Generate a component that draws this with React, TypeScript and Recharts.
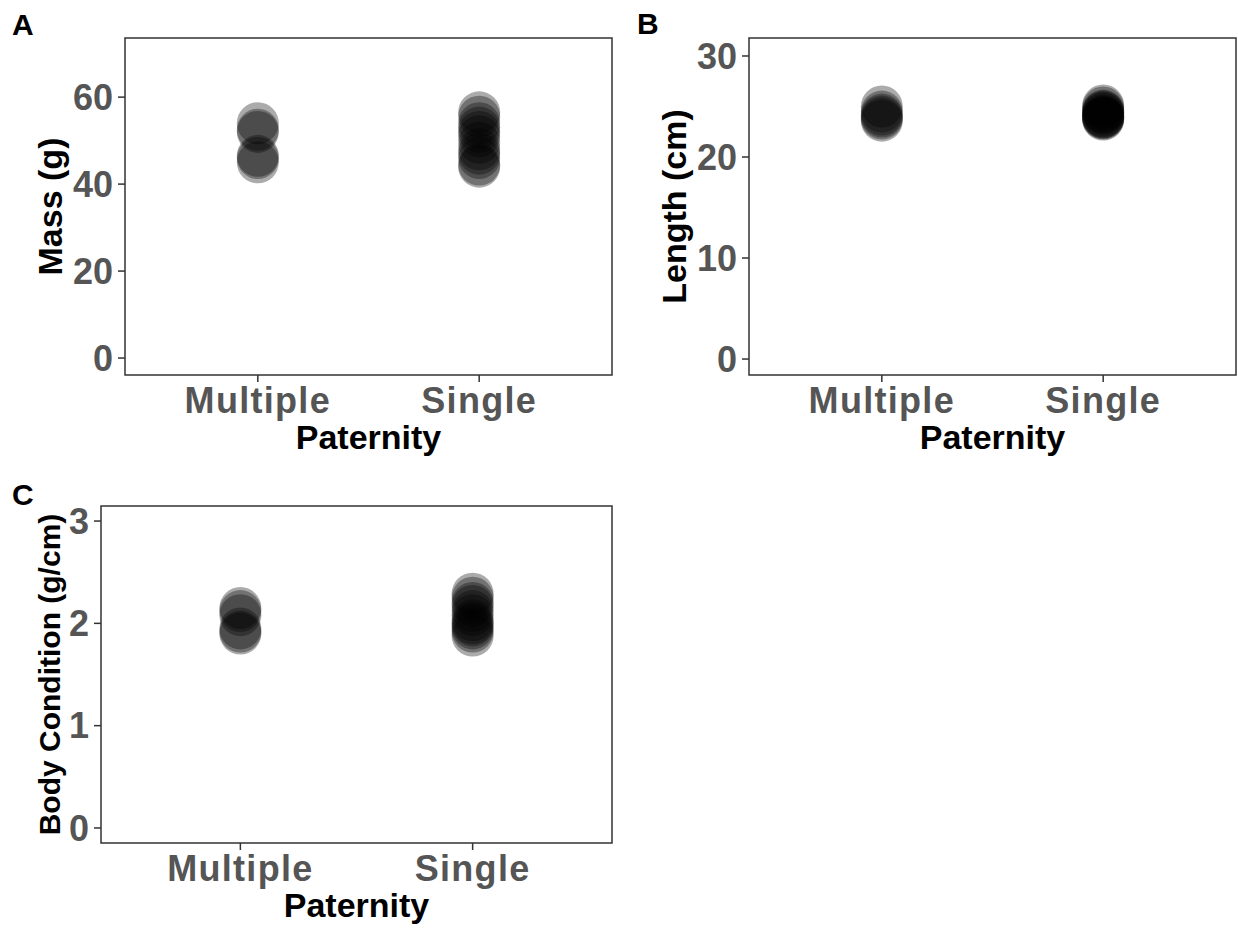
import React from 'react';
import { ScatterChart, Scatter, XAxis, YAxis, ReferenceArea, Label } from 'recharts';

const categories = ['Multiple', 'Single'];

const massMultiple = [54, 52.5, 52, 46.5, 46, 45];
const massSingle = [56.5, 55.5, 54, 53, 52, 51, 49.5, 48, 47, 46, 44.5, 44];

const lengthMultiple = [25, 24.5, 24.2, 24, 23.8, 23.6];
const lengthSingle = [25.1, 24.9, 24.6, 24.4, 24.3, 24.1, 24, 23.9, 23.8, 23.7, 23.9, 24.5];

const bcMultiple = [2.15, 2.12, 2.08, 1.95, 1.92, 1.9];
const bcSingle = [2.29, 2.25, 2.2, 2.17, 2.12, 2.08, 2.03, 1.98, 1.95, 1.92, 1.88, 2.0];

const massTicks = [0, 20, 40, 60];
const lengthTicks = [0, 10, 20, 30];
const bcTicks = [0, 1, 2, 3];

const FONT = '"Liberation Sans", Arial, Helvetica, sans-serif';
const TICK_GRAY = '#555555';
const FRAME = '#333333';

function build(multiple: number[], single: number[]) {
  return [
    ...multiple.map((v) => ({ x: 1, y: v })),
    ...single.map((v) => ({ x: 2, y: v })),
  ];
}

const Dot = (props: any) => {
  const { cx, cy } = props;
  if (cx == null || cy == null) return null;
  return <circle cx={cx} cy={cy} r={21} fill="#000" fillOpacity={0.33} />;
};

type PanelProps = {
  data: { x: number; y: number }[];
  domain: [number, number];
  ticks: number[];
  yTitle: string;
  yTitleSize: number;
  yTitleGap: number;
  margin: { top: number; right: number; bottom: number; left: number };
};

const YTitle = (props: any) => {
  const { viewBox, value, size, gap } = props;
  if (!viewBox) return null;
  const bx = viewBox.x + viewBox.width - gap;
  const cy = viewBox.y + viewBox.height / 2;
  return (
    <text
      x={bx}
      y={cy}
      transform={`rotate(-90 ${bx} ${cy})`}
      textAnchor="middle"
      fontFamily={FONT}
      fontWeight="bold"
      fontSize={size}
      fill="#000"
    >
      {value}
    </text>
  );
};

const Panel = ({ data, domain, ticks, yTitle, yTitleSize, yTitleGap, margin }: PanelProps) => (
  <div style={{ position: 'absolute', left: 0, top: 0 }}>
    <ScatterChart width={1238} height={928} margin={margin}>
      <XAxis
        type="number"
        dataKey="x"
        domain={[0.4, 2.6]}
        ticks={[1, 2]}
        allowDataOverflow
        height={80}
        axisLine={false}
        tickLine={{ stroke: FRAME, strokeWidth: 1.5 }}
        tickSize={7}
        tickMargin={5}
        tickFormatter={(v: number) => categories[v - 1]}
        tick={{ fill: TICK_GRAY, fontSize: 36, fontWeight: 'bold', fontFamily: FONT, letterSpacing: 1.3 }}
      >
        <Label
          value="Paternity"
          position="insideBottom"
          offset={6}
          style={{ fill: '#000', fontSize: 34, fontWeight: 'bold', fontFamily: FONT }}
        />
      </XAxis>
      <YAxis
        type="number"
        dataKey="y"
        domain={domain}
        ticks={ticks}
        allowDataOverflow
        width={80}
        axisLine={false}
        tickLine={{ stroke: FRAME, strokeWidth: 1.5 }}
        tickSize={7}
        tickMargin={5}
        tick={{ fill: TICK_GRAY, fontSize: 36, fontWeight: 'bold', fontFamily: FONT }}
        label={<YTitle value={yTitle} size={yTitleSize} gap={yTitleGap} />}
      />
      <ReferenceArea
        x1={0.4}
        x2={2.6}
        y1={domain[0]}
        y2={domain[1]}
        fill="none"
        fillOpacity={0}
        stroke={FRAME}
        strokeWidth={1.5}
        ifOverflow="visible"
      />
      <Scatter data={data} shape={<Dot />} isAnimationActive={false} />
    </ScatterChart>
  </div>
);

export default function App() {
  return (
    <div
      style={{
        position: 'absolute',
        left: 0,
        top: 0,
        width: 1238,
        height: 928,
        background: '#fff',
        overflow: 'hidden',
      }}
    >
      <Panel
        data={build(massMultiple, massSingle)}
        domain={[-3.9, 73.6]}
        ticks={massTicks}
        yTitle="Mass (g)"
        yTitleSize={34}
        yTitleGap={63}
        margin={{ top: 38, right: 626, bottom: 473, left: 45 }}
      />
      <Panel
        data={build(lengthMultiple, lengthSingle)}
        domain={[-1.58, 31.78]}
        ticks={lengthTicks}
        yTitle="Length (cm)"
        yTitleSize={34}
        yTitleGap={63}
        margin={{ top: 38, right: 2, bottom: 473, left: 669 }}
      />
      <Panel
        data={build(bcMultiple, bcSingle)}
        domain={[-0.147, 3.147]}
        ticks={bcTicks}
        yTitle="Body Condition (g/cm)"
        yTitleSize={30}
        yTitleGap={41}
        margin={{ top: 506, right: 626, bottom: 5, left: 21 }}
      />
      <svg width={1238} height={928} style={{ position: 'absolute', left: 0, top: 0, pointerEvents: 'none' }}>
        <text x={12} y={35} fontFamily={FONT} fontWeight="bold" fontSize={30} fill="#000">A</text>
        <text x={637} y={34} fontFamily={FONT} fontWeight="bold" fontSize={30} fill="#000">B</text>
        <text x={12} y={505} fontFamily={FONT} fontWeight="bold" fontSize={30} fill="#000">C</text>
      </svg>
    </div>
  );
}
